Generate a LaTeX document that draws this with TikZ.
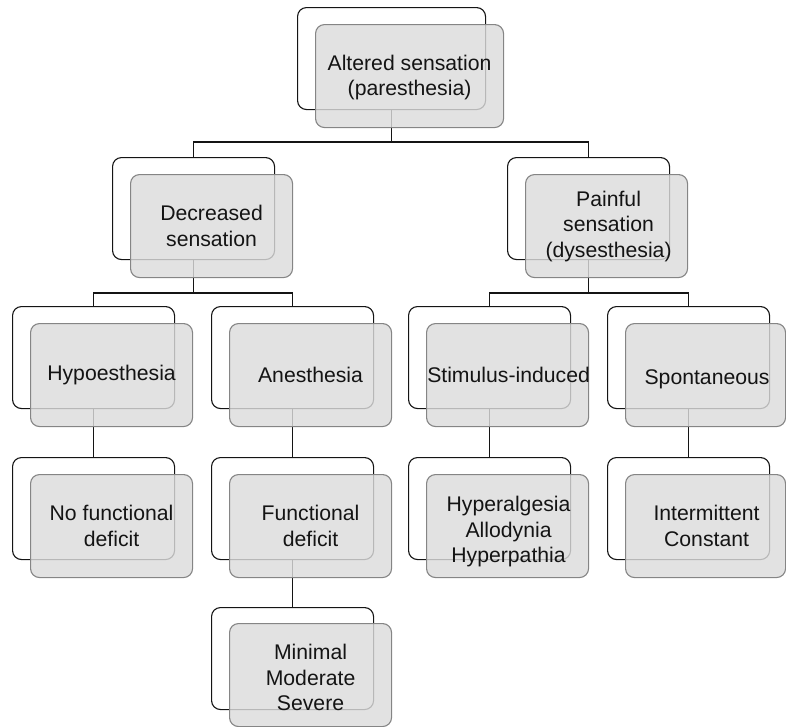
\documentclass[tikz,border=0pt]{standalone}
\usepackage{fontspec}
\setmainfont{Liberation Sans}
\definecolor{boxfill}{HTML}{DCDCDC}
\definecolor{boxline}{HTML}{858585}
\definecolor{ink}{HTML}{141414}
\begin{document}
\begin{tikzpicture}[x=1pt,y=-1pt,
  back/.style={draw=ink,line width=1.1pt,rounded corners=9pt,fill=white,
    minimum width=162pt,minimum height=102pt,inner sep=0pt,anchor=north west},
  front/.style={draw=boxline,line width=1.1pt,rounded corners=9pt,fill=boxfill,fill opacity=0.82,
    minimum width=162pt,minimum height=103pt,inner sep=0pt,anchor=north west},
  lbl/.style={align=center,font=\fontsize{21.2}{25.5}\selectfont,text=ink,inner sep=0pt},
  link/.style={draw=ink,line width=1.5pt}]
\useasboundingbox (0,0) rectangle (786,726);
% back (white) boxes
\node[back,minimum width=188pt] (aW) at (297,7) {};
\node[back] (bW) at (112,157) {};
\node[back] (cW) at (507,157) {};
\node[back] (dW) at (12,306) {};
\node[back] (eW) at (211,306) {};
\node[back] (fW) at (408,306) {};
\node[back] (gW) at (607,306) {};
\node[back] (hW) at (12,457) {};
\node[back] (iW) at (211,457) {};
\node[back] (jW) at (408,457) {};
\node[back] (kW) at (607,457) {};
\node[back] (lW) at (211,607) {};
% connectors
\draw[link] (aW.south) -- ++(0,32) -| (bW.north);
\draw[link] (aW.south) -- ++(0,32) -| (cW.north);
\draw[link] (bW.south) -- ++(0,33) -| (dW.north);
\draw[link] (bW.south) -- ++(0,33) -| (eW.north);
\draw[link] (cW.south) -- ++(0,33) -| (fW.north);
\draw[link] (cW.south) -- ++(0,33) -| (gW.north);
\draw[link] (dW.south) -- (hW.north);
\draw[link] (eW.south) -- (iW.north);
\draw[link] (fW.south) -- (jW.north);
\draw[link] (gW.south) -- (kW.north);
\draw[link] (iW.south) -- (lW.north);
% front (grey) boxes
\node[front,minimum width=188pt] (aG) at (315,24) {};
\node[front] (bG) at (130,174) {};
\node[front] (cG) at (525,174) {};
\node[front] (dG) at (30,323) {};
\node[front] (eG) at (229,323) {};
\node[front] (fG) at (426,323) {};
\node[front,minimum width=160pt] (gG) at (625,323) {};
\node[front] (hG) at (30,474) {};
\node[front] (iG) at (229,474) {};
\node[front] (jG) at (426,474) {};
\node[front,minimum width=160pt] (kG) at (625,474) {};
\node[front] (lG) at (229,623) {};
% labels
\node[lbl] (aT) at ([yshift=-1.5pt]aG.center) {Altered sensation\\(paresthesia)};
\node[lbl] (bT) at (bG.center) {Decreased\\sensation};
\node[lbl] (cT) at ([xshift=2pt]cG.center) {Painful\\sensation\\(dysesthesia)};
\node[lbl] (dT) at (dG.center) {Hypoesthesia};
\node[lbl] (eT) at (eG.center) {Anesthesia};
\node[lbl] (fT) at ([xshift=1pt]fG.center) {Stimulus-induced};
\node[lbl] (gT) at ([xshift=1.5pt,yshift=-4pt]gG.center) {Spontaneous};
\node[lbl] (hT) at (hG.center) {No functional\\deficit};
\node[lbl] (iT) at (iG.center) {Functional\\deficit};
\node[lbl] (jT) at ([xshift=1pt,yshift=-5.5pt]jG.center) {Hyperalgesia\\Allodynia\\Hyperpathia};
\node[lbl] (kT) at ([xshift=1pt]kG.center) {Intermittent\\Constant};
\node[lbl] (lT) at ([yshift=-2.5pt]lG.center) {Minimal\\Moderate\\Severe};
\end{tikzpicture}
\end{document}
